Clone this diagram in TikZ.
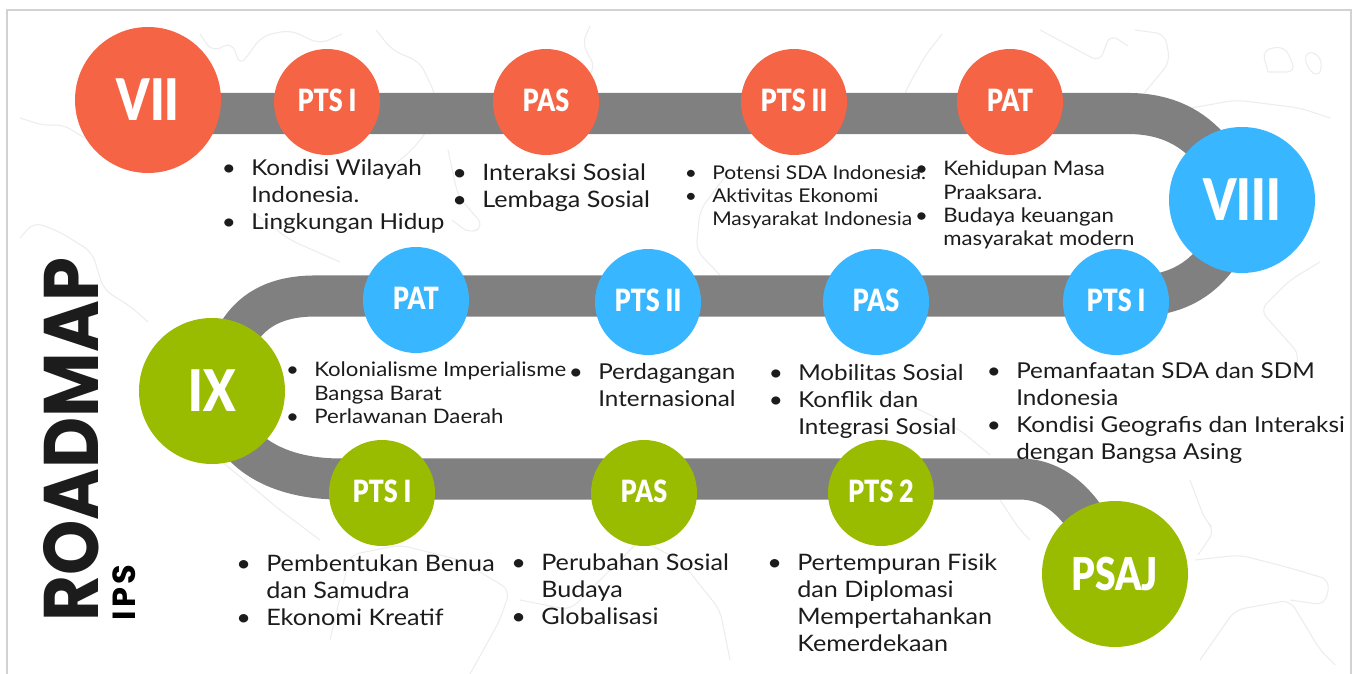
\documentclass[tikz,border=0pt]{standalone}
\usepackage{fontspec}
\usetikzlibrary{backgrounds,calc}
\setmainfont[FakeStretch=1.11]{Lato}
\newfontfamily\headfont[FakeStretch=0.91]{Poppins}
\newfontfamily\subfont{Poppins}
\newfontfamily\labfont[FakeStretch=0.82,BoldFont={Lato Black}]{Lato}
\definecolor{roadgray}{HTML}{808080}
\definecolor{cOrange}{HTML}{F56445}
\definecolor{cBlue}{HTML}{38B6FF}
\definecolor{cGreen}{HTML}{99BC00}
\definecolor{mapline}{HTML}{EDEDED}
\definecolor{framegray}{HTML}{D2D2D2}
\definecolor{inkc}{HTML}{1C1C1C}
\newcommand{\itm}{\leavevmode\llap{\textbullet\hspace{11.5pt}}}
\newcommand{\fsA}{\fontsize{16.4}{20.2}\selectfont}
\newcommand{\fsC}{\fontsize{17}{20.2}\selectfont}
\newcommand{\fsB}{\fontsize{14.2}{17.4}\selectfont}
\newcommand{\fsD}{\fontsize{15}{17.4}\selectfont}
\tikzset{
  big/.style={circle,minimum size=109.5pt,inner sep=0pt,text=white,font=\labfont\bfseries\fontsize{43}{43}\selectfont},
  small/.style={circle,minimum size=79.5pt,inner sep=0pt,text=white,text depth=3pt,font=\labfont\bfseries\fontsize{23}{23}\selectfont},
  road/.style={draw=roadgray,line width=30.8pt,line cap=butt},
  blkA/.style={anchor=north west,inner sep=0pt,align=left,text=inkc,font=\fsA},
  blkB/.style={anchor=north west,inner sep=0pt,align=left,text=inkc,font=\fsB},
  blkC/.style={blkA,font=\fsC},
  blkD/.style={blkB,font=\fsD},
  maplines/.style={draw=mapline,line width=0.8pt,line join=round,rounded corners=7pt},
}
\begin{document}
\begin{tikzpicture}[x=0.75pt,y=-0.75pt]
\useasboundingbox (0,0) rectangle (1364,674);
% stations
\node[big,fill=cOrange] (vii) at (148,100) {VII};
\node[small,fill=cOrange] (o1) at (327,102) {PTS I};
\node[small,fill=cOrange] (o2) at (546,102) {PAS};
\node[small,fill=cOrange] (o3) at (794,102) {PTS II};
\node[small,fill=cOrange] (o4) at (1010,102) {PAT};
\node[big,fill=cBlue] (viii) at (1242,200) {VIII};
\node[small,fill=cBlue] (b1) at (1116,302) {PTS I};
\node[small,fill=cBlue] (b2) at (876,302) {PAS};
\node[small,fill=cBlue] (b3) at (648,302) {PTS II};
\node[small,fill=cBlue] (b4) at (416,300) {PAT};
\node[big,fill=cGreen] (ix) at (212,391) {IX};
\node[small,fill=cGreen] (g1) at (382,493) {PTS I};
\node[small,fill=cGreen] (g2) at (644,493) {PAS};
\node[small,fill=cGreen] (g3) at (881,493) {PTS 2};
\node[big,fill=cGreen,font=\labfont\bfseries\fontsize{34}{34}\selectfont] (psaj) at (1115,574) {PSAJ};
% road waypoints
\coordinate (r1) at (1128,113.5);
\coordinate (r2) at (1225,170);
\coordinate (r3) at (1225,245);
\coordinate (r4) at (1135,296);
\coordinate (r5) at (315,296);
\coordinate (r6) at (232,345);
\coordinate (r7) at (235,435);
\coordinate (r8) at (340,479);
\coordinate (r9) at (1020,479);
\coordinate (r10) at (1095,535);
\begin{scope}[on background layer]
  \fill[white] (0,0) rectangle (1364,674);
  \draw[framegray,line width=1.5pt] (7,674) -- (7,10.5) -- (1351,10.5) -- (1351,674);
  % faint map outlines
  \draw[maplines] (20,118) -- (45,126) -- (62,124) -- (85,138);
  \draw[maplines] (200,34) -- (212,52) -- (232,42) -- (240,66) -- (262,36) -- (290,30) -- (320,44) -- (342,34);
  \draw[maplines] (376,30) -- (392,50) -- (420,62) -- (436,96) -- (428,130) -- (412,150) -- (388,170);
  \draw[maplines] (590,26) -- (582,44) -- (596,68) -- (580,84);
  \draw[maplines] (448,150) -- (458,196) -- (484,226) -- (470,234) -- (452,220);
  \draw[maplines] (20,238) -- (34,222) -- (60,232) -- (92,252) -- (104,290) -- (130,306) -- (148,322);
  \draw[maplines] (250,210) -- (290,240) -- (340,262);
  \draw[maplines] (942,34) -- (925,56) -- (905,92) -- (898,118);
  \draw[maplines] (1040,30) -- (1100,62) -- (1110,34) -- (1128,46);
  \draw[maplines] (1135,30) -- (1165,34) -- (1170,62) -- (1140,98) -- (1180,110) -- (1236,100) -- (1300,108) -- (1330,118);
  \draw[maplines] (1268,72) -- (1262,50) -- (1285,46) -- (1296,72) -- (1268,72);
  \draw[maplines] (1305,50) -- (1322,56) -- (1320,78) -- (1306,68) -- cycle;
  \draw[maplines] (730,170) -- (700,210) -- (696,250) -- (720,275);
  \draw[maplines] (1290,380) -- (1300,355) -- (1260,310) -- (1290,280) -- (1320,262);
  \draw[maplines] (880,390) -- (960,430) -- (990,455);
  \draw[maplines] (1190,480) -- (1205,520) -- (1215,530) -- (1198,555);
  \draw[maplines] (1195,560) -- (1240,555) -- (1290,568) -- (1330,580) -- (1325,605) -- (1290,600);
  \draw[maplines] (1200,660) -- (1235,610) -- (1290,600) -- (1320,650) -- (1335,665);
  \draw[maplines] (1000,500) -- (1020,530) -- (1030,540);
  \draw[maplines] (330,640) -- (350,555) -- (400,545) -- (460,560) -- (510,590) -- (500,620) -- (470,674);
  \draw[maplines] (520,600) -- (570,610) -- (640,540) -- (680,560) -- (720,610) -- (730,660);
  \draw[maplines] (220,460) -- (280,510) -- (320,540);
  % road
  \draw[road] (vii.center |- r1) -- (r1) .. controls (1175,113.5) and (1205,135) .. (r2);
  \draw[road] (r3) .. controls (1205,280) and (1175,296) .. (r4) -- (r5) .. controls (270,296) and (245,315) .. (r6);
  \draw[road] (r7) .. controls (255,465) and (295,479) .. (r8) -- (r9) .. controls (1055,479) and (1080,505) .. (r10);
\end{scope}
% lists
\node[blkA] (ta) at (251,159) {\itm Kondisi Wilayah\\Indonesia.\\\itm Lingkungan Hidup};
\node[blkC] (tb) at (482,164) {\itm Interaksi Sosial\\\itm Lembaga Sosial};
\node[blkB] (tc) at (712,165) {\itm Potensi SDA Indonesia.\\\itm Aktivitas Ekonomi\\Masyarakat Indonesia};
\node[blkD] (td) at (943,161) {\itm Kehidupan Masa\\Praaksara.\\\itm Budaya keuangan\\masyarakat modern};
\node[blkD] (te) at (314,362) {\itm Kolonialisme Imperialisme\\Bangsa Barat\\\itm Perlawanan Daerah};
\node[blkA] (tf) at (598,363) {\itm Perdagangan\\Internasional};
\node[blkA] (tg) at (798,364) {\itm Mobilitas Sosial\\\itm Konflik dan\\Integrasi Sosial};
\node[blkA] (th) at (1016,362) {\itm Pemanfaatan SDA dan SDM\\Indonesia\\\itm Kondisi Geografis dan Interaksi\\dengan Bangsa Asing};
\node[blkC] (ti) at (266,555) {\itm Pembentukan Benua\\dan Samudra\\\itm Ekonomi Kreatif};
\node[blkC] (tj) at (541,554) {\itm Perubahan Sosial\\Budaya\\\itm Globalisasi};
\node[blkC] (tk) at (797,554) {\itm Pertempuran Fisik\\dan Diplomasi\\Mempertahankan\\Kemerdekaan};
% title
\node[rotate=90,anchor=base west,inner sep=0pt,text=inkc,font=\headfont\bfseries\fontsize{58}{58}\selectfont] (title) at (98,622) {ROADMAP};
\node[rotate=90,anchor=base west,inner sep=0pt,text=black,font=\subfont\bfseries\fontsize{24}{24}\selectfont] (sub) at (135,621) {I\hspace{2.5pt}P\hspace{2.5pt}S};
\end{tikzpicture}
\end{document}
